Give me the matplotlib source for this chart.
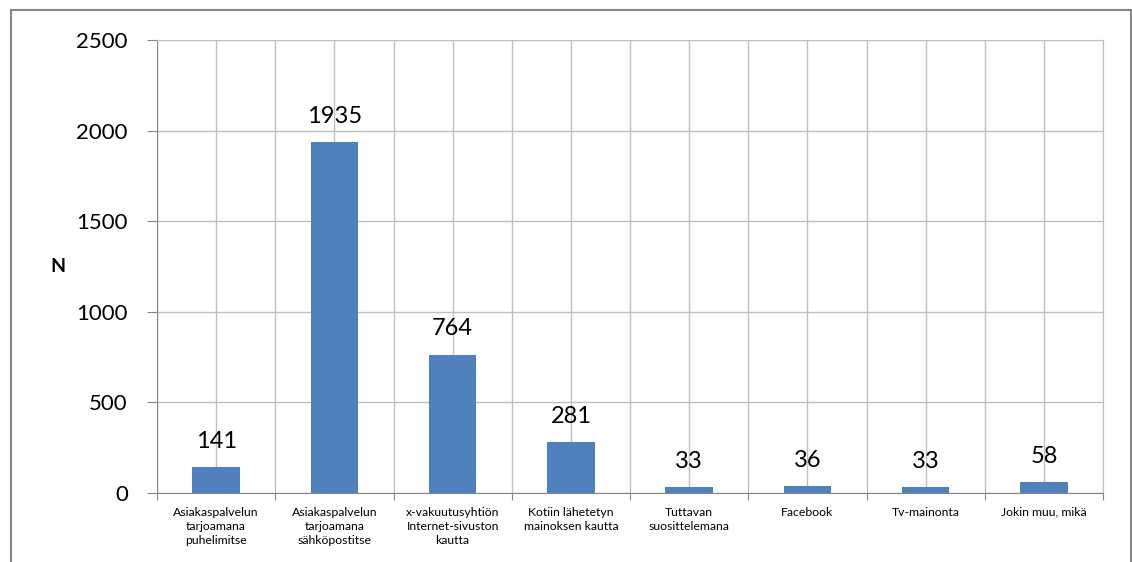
import matplotlib
matplotlib.use("Agg")
import matplotlib.pyplot as plt
from matplotlib.patches import Rectangle

categories = [
    "Asiakaspalvelun\ntarjoamana\npuhelimitse",
    "Asiakaspalvelun\ntarjoamana\nsähköpostitse",
    "x-vakuutusyhtiön\nInternet-sivuston\nkautta",
    "Kotiin lähetetyn\nmainoksen kautta",
    "Tuttavan\nsuosittelemana",
    "Facebook",
    "Tv-mainonta",
    "Jokin muu, mikä",
]
counts = [141, 1935, 764, 281, 33, 36, 33, 58]
y_ticks = [0, 500, 1000, 1500, 2000, 2500]

plt.rcParams["font.family"] = ["Lato", "DejaVu Sans"]

W, H = 1132, 562
fig = plt.figure(figsize=(W / 100, H / 100), dpi=100)
ax = fig.add_axes([157 / W, 1 - 493 / H, (1103 - 157) / W, (493 - 40) / H])

# outer chart frame
fig.patches.append(Rectangle((11 / W, -0.1), (1131 - 11) / W, 1.1 - 10 / H,
                             transform=fig.transFigure, fill=False,
                             edgecolor="#868686", lw=1.5))

x = list(range(len(categories)))
ax.bar(x, counts, width=0.4, color="#4F81BD", zorder=3)
for xi, v in zip(x, counts):
    ax.annotate(str(v), (xi, v), xytext=(0, 11), textcoords="offset points",
                ha="center", va="bottom", fontsize=17, color="black")

ax.set_xlim(-0.5, len(categories) - 0.5)
ax.set_ylim(0, 2500)
ax.set_yticks(y_ticks)
ax.tick_params(axis="y", labelsize=16, length=7, color="#868686", pad=14)

# boundaries carry ticks, centres carry labels; both have gridlines
bounds = [i - 0.5 for i in range(len(categories) + 1)]
ax.set_xticks(bounds)
ax.set_xticklabels([])
ax.set_xticks(x, minor=True)
ax.set_xticklabels(categories, minor=True, fontsize=8.8, linespacing=1.35)
ax.tick_params(axis="x", which="major", length=5, color="#868686")
ax.tick_params(axis="x", which="minor", length=0, pad=10)

ax.grid(True, which="both", color="#C0C0C0", lw=1, zorder=0)
ax.set_axisbelow(True)
for side in ("top", "right"):
    ax.spines[side].set_color("#C0C0C0")
for side in ("left", "bottom"):
    ax.spines[side].set_color("#868686")

ax.set_ylabel("N", fontsize=14, fontweight="bold", rotation=0, labelpad=13,
              va="center")

fig.savefig("out.png", dpi=100)
